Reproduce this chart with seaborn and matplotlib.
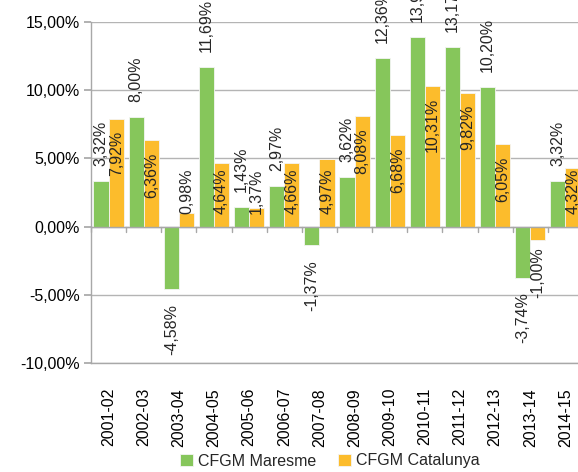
import numpy as np
import pandas as pd
import seaborn as sns
import matplotlib.pyplot as plt
from matplotlib.ticker import FuncFormatter, MultipleLocator

years = ["2001-02", "2002-03", "2003-04", "2004-05", "2005-06", "2006-07", "2007-08",
         "2008-09", "2009-10", "2010-11", "2011-12", "2012-13", "2013-14", "2014-15"]
maresme = [3.32, 8.00, -4.58, 11.69, 1.43, 2.97, -1.37, 3.62, 12.36, 13.93, 13.17, 10.20, -3.74, 3.32]
catalunya = [7.92, 6.36, 0.98, 4.64, 1.37, 4.66, 4.97, 8.08, 6.68, 10.31, 9.82, 6.05, -1.00, 4.32]
series_names = ["CFGM Maresme", "CFGM Catalunya"]

GREEN = "#86c65b"
ORANGE = "#fcbc2c"
FS = 11.5

sns.set_theme(style="white")
plt.rcParams["font.family"] = ["Liberation Sans", "DejaVu Sans"]

df = pd.DataFrame({
    "year": years * 2,
    "value": maresme + catalunya,
    "series": [series_names[0]] * len(years) + [series_names[1]] * len(years),
})

fig = plt.figure(figsize=(5.78, 4.72), dpi=100)
ax = fig.add_axes([91 / 578, 1 - 363 / 472, (583 - 91) / 578, (363 - 22) / 472])

sns.barplot(data=df, x="year", y="value", hue="series", palette=[GREEN, ORANGE],
            width=0.86, ax=ax, edgecolor="#f4f4f4", linewidth=0.6, saturation=1)

ax.set_xlim(-0.5, len(years) - 0.5)
ax.set_ylim(-10, 15)
ax.yaxis.set_major_locator(MultipleLocator(5))
ax.yaxis.set_major_formatter(FuncFormatter(lambda v, p: f"{v:.2f}%".replace(".", ",")))
ax.grid(axis="y", color="#b4b4b4", linewidth=1.0)
ax.set_axisbelow(True)
ax.set_xlabel("")
ax.set_ylabel("")

for s in ["top", "right"]:
    ax.spines[s].set_visible(False)
for s in ["left", "bottom"]:
    ax.spines[s].set_color("#a8a8a8")
    ax.spines[s].set_linewidth(1.0)

ax.tick_params(axis="y", left=True, length=5, color="#a8a8a8", labelsize=FS, pad=3, labelcolor="black")
ax.tick_params(axis="x", bottom=False, labelsize=FS, rotation=90, pad=12, labelcolor="black")

# zero line with category ticks
ax.axhline(0, color="#a8a8a8", linewidth=1.0, zorder=2)
for b in np.arange(-0.5, len(years), 1.0):
    ax.plot([b, b], [0, -0.37], color="#a8a8a8", linewidth=1.0, clip_on=False, zorder=2)

def fmt(v):
    return f"{v:.2f}%".replace(".", ",")

off = 0.86 / 4
for i, v in enumerate(maresme):
    x = i - off
    if v >= 0:
        ax.text(x, v + 1.1, fmt(v), rotation=90, ha="center", va="bottom", fontsize=FS)
    else:
        ax.text(x, v - 1.1, fmt(v), rotation=90, ha="center", va="top", fontsize=FS)
for i, v in enumerate(catalunya):
    x = i + off
    if v >= 5:
        ax.text(x, v - 0.9, fmt(v), rotation=90, ha="center", va="top", fontsize=FS)
    elif v >= 0:
        ax.text(x, 0.95, fmt(v), rotation=90, ha="center", va="bottom", fontsize=FS)
    else:
        ax.text(x, v - 0.5, fmt(v), rotation=90, ha="center", va="top", fontsize=FS)

sns.move_legend(ax, "center", bbox_to_anchor=(330 / 578, 11 / 472), bbox_transform=fig.transFigure,
                ncol=2, frameon=False, title=None, fontsize=FS, handlelength=0.8,
                handleheight=0.8, handletextpad=0.3, columnspacing=1.4)

fig.savefig("out.png", dpi=100)
